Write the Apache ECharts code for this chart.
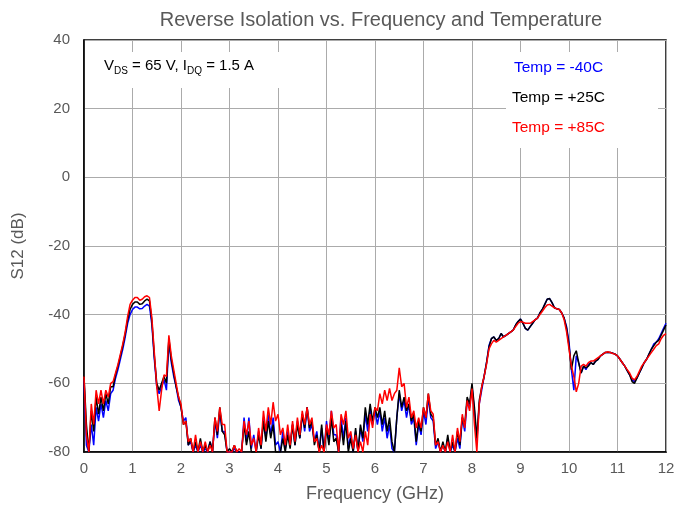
<!DOCTYPE html>
<html>
<head>
<meta charset="utf-8">
<script src="https://cdn.jsdelivr.net/npm/echarts@6/dist/echarts.min.js"></script>
<style>html,body{margin:0;padding:0;background:#fff;}#c{width:678px;height:508px;}</style>
</head>
<body>
<div id="c"></div>
<script>
// Frequency samples (GHz), 0..12 step 0.05
var freqStep = 0.05;
var nPts = 241;

var temp25 = [
-58,-72,-80,-68,-74,-64,-69,-64,-68,-63,-66,-61,-61,-57.5,-55,-52,-49,-45.5,-41.5,-38.5,
-37,-36.3,-36.3,-37,-36.8,-36,-35.5,-36,-42,-52,-60,-62,-60,-58,-60,-47,-53,-57,-61,-64,
-67,-72,-71,-78,-76,-80,-77,-80,-76,-80,-78,-80,-77,-80,-70,-75,-67,-74,-75,-80,
-79,-80,-78,-80,-80,-80,-72,-78,-74,-80,-80,-80,-75,-79,-71,-77,-71,-76,-72,-80,
-80,-80,-76,-80,-75,-79,-72,-78,-72,-76,-69,-73,-67,-73,-71,-78,-75,-80,-72,-80,
-73,-78,-70,-77,-76,-80,-72,-78,-71,-80,-76,-80,-73,-80,-72,-76,-67,-72,-66,-71,
-67,-70,-67,-72,-68,-74,-70,-77,-80,-70,-62,-67,-64,-68,-66,-71,-69,-77,-71,-74,
-67,-70,-63,-69,-70,-78,-76,-80,-77,-80,-75,-80,-77,-80,-74,-78,-70,-72,-64,-66,
-60,-67,-76,-65,-61,-58,-54,-49.5,-47,-46.5,-47.5,-47,-45.5,-46.5,-46,-45.5,-45,-44.5,-43,-42,
-41.3,-42.5,-44,-44.5,-43.5,-42.5,-41.5,-41,-39.5,-38.5,-37,-35.5,-35.3,-36.5,-38,-38.3,-38.5,-39.5,-41,-44,
-49,-56,-52,-50.5,-54,-57,-55,-55.5,-55,-54,-54.5,-53.5,-53,-52,-51.5,-51,-51,-51,-51.2,-51.5,
-52,-53,-54,-55,-56.3,-57.5,-59.5,-60,-58.5,-57,-55.5,-54,-53,-51.5,-50,-49,-48,-47.5,-46,-44.5,
-43
];

var temp85 = [
-58,-75,-80,-66,-72,-62,-66,-62,-66,-62,-64,-60,-59.5,-57,-54.5,-51.5,-48.5,-45,-40.5,-37,
-35.8,-35,-35,-35.8,-35.5,-34.8,-34.5,-35,-41,-51,-61,-68,-62,-57.5,-58,-46,-52,-56,-60,-64,
-66,-72,-71,-77,-76,-80,-75,-80,-77,-80,-77,-80,-78,-80,-70,-74,-67,-72,-72,-80,
-80,-80,-78,-80,-79,-80,-71,-75,-71,-78,-76,-80,-73,-78,-68,-74,-67,-72,-65.5,-71,
-69,-75,-73,-78,-72,-78,-71,-77,-70,-75,-68,-72,-67,-72,-70,-77,-76,-80,-78,-80,
-72,-75,-68,-73,-72,-80,-69,-72,-68,-76,-74,-79,-75,-80,-77,-80,-74,-78,-69,-73,
-67,-68,-63,-66,-62,-65,-61.5,-65,-63,-62,-55.5,-61,-60,-67,-64,-70,-68,-73,-70,-73,
-67,-70,-63,-68,-69,-78,-77,-80,-78,-80,-77,-80,-75,-80,-73,-77,-69,-73,-65,-68,
-61.5,-72,-80,-66,-61,-58,-54.5,-50,-48.5,-47.5,-48,-47.5,-47,-46.5,-46,-45.5,-45,-44.5,-43.5,-42.5,
-42,-42.2,-42.5,-42.5,-42.5,-42,-41.5,-41,-40,-39,-38,-37.2,-37,-37.5,-38,-38.3,-38.5,-39.5,-41.5,-45,
-50,-55,-58,-62.5,-60,-55,-54.5,-55,-54,-53.5,-53.5,-53,-52.5,-52,-51.5,-51,-50.8,-51,-51.3,-51.5,
-52,-53,-54,-55,-56,-57,-58.5,-59,-58,-56.5,-55,-54,-53,-52,-51,-50,-49,-48.5,-47,-46,
-45.5
];

var tempM40 = [
-59,-78,-80,-72,-78,-67,-71,-66,-70,-65,-68,-63,-62,-58.5,-56,-53,-50,-46.5,-42.5,-40,
-38.5,-37.8,-37.8,-38.3,-38.2,-37.5,-37,-37.5,-43,-53,-61,-63,-61,-59,-62,-48,-54,-58,-61,-65,
-67,-71,-70,-78,-77,-80,-78,-80,-78,-80,-79,-80,-77,-80,-71,-76,-68,-74,-74,-80,
-80,-80,-79,-80,-80,-80,-70,-77,-70,-79,-75,-80,-74,-79,-70,-76,-69,-75,-70,-78,
-77,-80,-74,-79,-74,-78,-72,-78,-71,-76,-69,-74,-67,-74,-72,-77,-74,-80,-73,-80,
-71,-77,-68,-75,-75,-80,-70,-76,-70,-79,-75,-80,-74,-80,-73,-77,-69,-74,-67,-72,
-68,-72,-68,-74,-70,-76,-72,-79,-80,-70,-63,-68,-65,-70,-66,-72,-70,-78,-72,-75,
-68,-72,-64,-70,-71,-79,-77,-80,-78,-80,-76,-80,-78,-80,-76,-79,-70,-74,-65,-67,
-61,-68,-77,-66,-62,-58,-54,-49,-47,-46.5,-47.5,-47,-45.5,-46.5,-46,-45.5,-45,-44.5,-43,-42,
-41.3,-42.5,-44,-44.5,-43.5,-42.5,-41.5,-41,-39.5,-38.5,-37,-35.5,-35.3,-36.5,-38,-38.3,-38.5,-39.5,-41,-43.5,
-48,-56,-62,-52,-54,-57,-55,-56,-54.5,-54,-54.5,-53.5,-53,-52,-51.5,-51,-51,-51,-51.2,-51.5,
-52,-53,-54,-55,-56.3,-57.5,-59,-59.5,-58.5,-57,-55.5,-54,-53,-51.5,-50,-48.5,-48,-47,-45.5,-44,
-42.5
];

var xTicks = [0,1,2,3,4,5,6,7,8,9,10,11,12];
var yTicks = [-80,-60,-40,-20,0,20,40];
var seriesNames = ['Temp = -40C','Temp = +25C','Temp = +85C'];

var freq = [];
for (var i = 0; i < nPts; i++) freq.push(+(i * freqStep).toFixed(2));
function pairs(vals){ return vals.map(function(v,i){ return [freq[i], v]; }); }

var chart = echarts.init(document.getElementById('c'), null, {renderer:'canvas'});
var FONT = 'Liberation Sans, Arial, sans-serif';
var gray = '#595959';

chart.setOption({
  animation: false,
  backgroundColor: '#fff',
  title: {
    text: 'Reverse Isolation vs. Frequency and Temperature',
    left: 376, top: 5, textAlign: 'center',
    textStyle: {color: gray, fontSize: 20, fontWeight: 'normal', fontFamily: FONT}
  },
  grid: {left: 84, right: 12, top: 40, bottom: 56, show: true, borderColor: '#000', borderWidth: 1.5, containLabel: false},
  xAxis: {
    type: 'value', min: xTicks[0], max: xTicks[xTicks.length-1], interval: 1,
    name: 'Frequency (GHz)', nameLocation: 'middle', nameGap: 33,
    nameTextStyle: {color: gray, fontSize: 18, fontFamily: FONT},
    axisLine: {show: true, onZero: false, lineStyle: {color: '#000', width: 1.5}},
    axisTick: {show: false},
    axisLabel: {color: gray, fontSize: 15, fontFamily: FONT, margin: 9},
    splitLine: {show: true, lineStyle: {color: '#ABABAB', width: 1}}
  },
  yAxis: {
    type: 'value', min: yTicks[0], max: yTicks[yTicks.length-1], interval: 20,
    name: 'S12 (dB)', nameLocation: 'middle', nameGap: 57, nameRotate: 90,
    nameTextStyle: {color: gray, fontSize: 17, fontFamily: FONT},
    axisLine: {show: true, onZero: false, lineStyle: {color: '#000', width: 1.5}},
    axisTick: {show: false},
    axisLabel: {color: gray, fontSize: 15, fontFamily: FONT, margin: 14},
    splitLine: {show: true, lineStyle: {color: '#ABABAB', width: 1}}
  },
  series: [
    {name: seriesNames[0], type: 'line', data: pairs(tempM40), showSymbol: false, symbol: 'none',
     lineStyle: {color: '#0000FF', width: 1.5}, z: 2},
    {name: seriesNames[1], type: 'line', data: pairs(temp25), showSymbol: false, symbol: 'none',
     lineStyle: {color: '#000000', width: 1.5}, z: 3},
    {name: seriesNames[2], type: 'line', data: pairs(temp85), showSymbol: false, symbol: 'none',
     lineStyle: {color: '#FF0000', width: 1.5}, z: 4}
  ],
  graphic: [
    {type: 'rect', shape: {x: 92, y: 52, width: 196, height: 36}, style: {fill: '#fff'}, z: 100},
    {type: 'text', left: 104, top: 58, z: 101,
     style: {
       text: '{n|V}{s|DS}{n| = 65 V, I}{s|DQ}{n| = 1.5 A}',
       rich: {
         n: {fontSize: 15, fontFamily: FONT, fill: '#000', verticalAlign: 'bottom', lineHeight: 18},
         s: {fontSize: 10, fontFamily: FONT, fill: '#000', verticalAlign: 'bottom', lineHeight: 14, padding: [0,0,-3,0]}
       }
     }},
    {type: 'rect', shape: {x: 506, y: 52, width: 152, height: 96}, style: {fill: '#fff'}, z: 100},
    {type: 'text', left: 514, top: 60, z: 101, style: {text: seriesNames[0], fill: '#0000FF', fontSize: 15.5, fontFamily: FONT}},
    {type: 'text', left: 512, top: 90, z: 101, style: {text: seriesNames[1], fill: '#000000', fontSize: 15.5, fontFamily: FONT}},
    {type: 'text', left: 512, top: 120, z: 101, style: {text: seriesNames[2], fill: '#FF0000', fontSize: 15.5, fontFamily: FONT}}
  ]
});
</script>
</body>
</html>
